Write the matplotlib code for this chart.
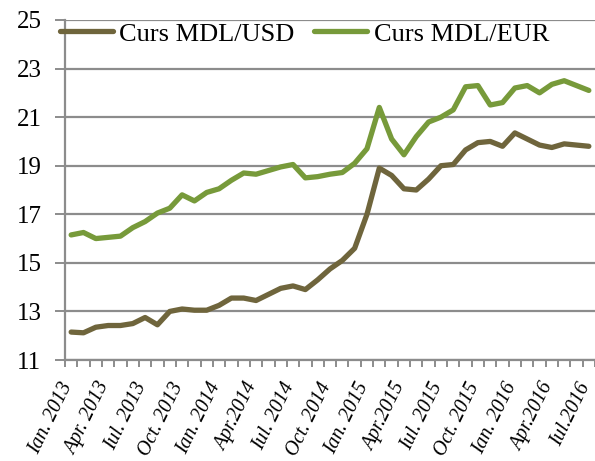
import matplotlib
matplotlib.use("Agg")
import matplotlib.pyplot as plt
import matplotlib.transforms as mtransforms
import numpy as np

months = ["Ian. 2013", "Feb. 2013", "Mar. 2013", "Apr. 2013", "Mai 2013", "Iun. 2013",
          "Iul. 2013", "Aug. 2013", "Sep. 2013", "Oct. 2013", "Nov. 2013", "Dec. 2013",
          "Ian. 2014", "Feb. 2014", "Mar. 2014", "Apr.2014", "Mai 2014", "Iun. 2014",
          "Iul. 2014", "Aug. 2014", "Sep. 2014", "Oct. 2014", "Nov. 2014", "Dec. 2014",
          "Ian. 2015", "Feb. 2015", "Mar. 2015", "Apr.2015", "Mai 2015", "Iun. 2015",
          "Iul. 2015", "Aug. 2015", "Sep. 2015", "Oct. 2015", "Nov. 2015", "Dec. 2015",
          "Ian. 2016", "Feb. 2016", "Mar. 2016", "Apr.2016", "Mai 2016", "Iun. 2016",
          "Iul.2016"]

usd = [12.15, 12.12, 12.35, 12.42, 12.42, 12.50, 12.75, 12.45, 13.00, 13.10, 13.05, 13.05,
       13.25, 13.55, 13.55, 13.45, 13.70, 13.95, 14.05, 13.90, 14.30, 14.75, 15.10, 15.60,
       17.00, 18.90, 18.60, 18.05, 18.00, 18.45, 19.00, 19.05, 19.65, 19.95, 20.00, 19.80,
       20.35, 20.10, 19.85, 19.75, 19.90, 19.85, 19.80]

eur = [16.15, 16.25, 16.00, 16.05, 16.10, 16.45, 16.70, 17.05, 17.25, 17.80, 17.55, 17.90,
       18.05, 18.40, 18.70, 18.65, 18.80, 18.95, 19.05, 18.50, 18.55, 18.65, 18.72, 19.10,
       19.70, 21.40, 20.10, 19.45, 20.20, 20.80, 21.00, 21.30, 22.25, 22.30, 21.50, 21.60,
       22.20, 22.30, 22.00, 22.35, 22.50, 22.30, 22.10]

label_every = 3
yticks = [11, 13, 15, 17, 19, 21, 23, 25]

c_usd = "#6F653C"
c_eur = "#779A3A"
grid_c = "#8C8C8C"

plt.rcParams["font.family"] = ["Liberation Serif", "DejaVu Serif"]

fig = plt.figure(figsize=(5.95, 4.61), dpi=100)
ax = fig.add_axes([65/595, 1-360/461, 1-65/595, (360-20)/461])

x = np.arange(len(months))
l1, = ax.plot(x, usd, color=c_usd, lw=3.8, solid_capstyle="round", solid_joinstyle="round", zorder=3)
l2, = ax.plot(x, eur, color=c_eur, lw=3.8, solid_capstyle="round", solid_joinstyle="round", zorder=3)

ax.set_xlim(-0.5, len(months)-0.5)
ax.set_ylim(11, 25)
ax.set_yticks(yticks)
ax.set_yticklabels([str(v) for v in yticks], fontsize=18)
ax.yaxis.grid(True, color=grid_c, lw=1.6)
ax.set_axisbelow(True)

ax.set_xticks(x[::label_every])
ax.set_xticklabels(months[::label_every], rotation=64, ha="right", va="center",
                   rotation_mode="anchor", fontsize=14.5, style="italic")
ax.tick_params(axis="x", which="major", length=0, pad=17)
shift = mtransforms.ScaledTranslation(-3/100, 0, fig.dpi_scale_trans)
for lab in ax.get_xticklabels():
    lab.set_transform(lab.get_transform() + shift)
ax.set_xticks(np.arange(-0.5, len(months), 1), minor=True)
ax.tick_params(axis="x", which="minor", length=5, width=1.4, color=grid_c, direction="out")
ax.tick_params(axis="y", length=7, width=1.4, color=grid_c, pad=10)

for s in ["top", "right"]:
    ax.spines[s].set_visible(False)
for s in ["left", "bottom"]:
    ax.spines[s].set_color(grid_c)
    ax.spines[s].set_linewidth(1.6)

fig.legend([l1, l2], ["Curs MDL/USD", "Curs MDL/EUR"], loc="center left",
           bbox_to_anchor=(60/595, 1-34/461), ncol=2, frameon=False, fontsize=19,
           handlelength=2.0, handletextpad=0.25, columnspacing=0.75,
           borderpad=0, borderaxespad=0)

fig.savefig("out.png", dpi=100)
